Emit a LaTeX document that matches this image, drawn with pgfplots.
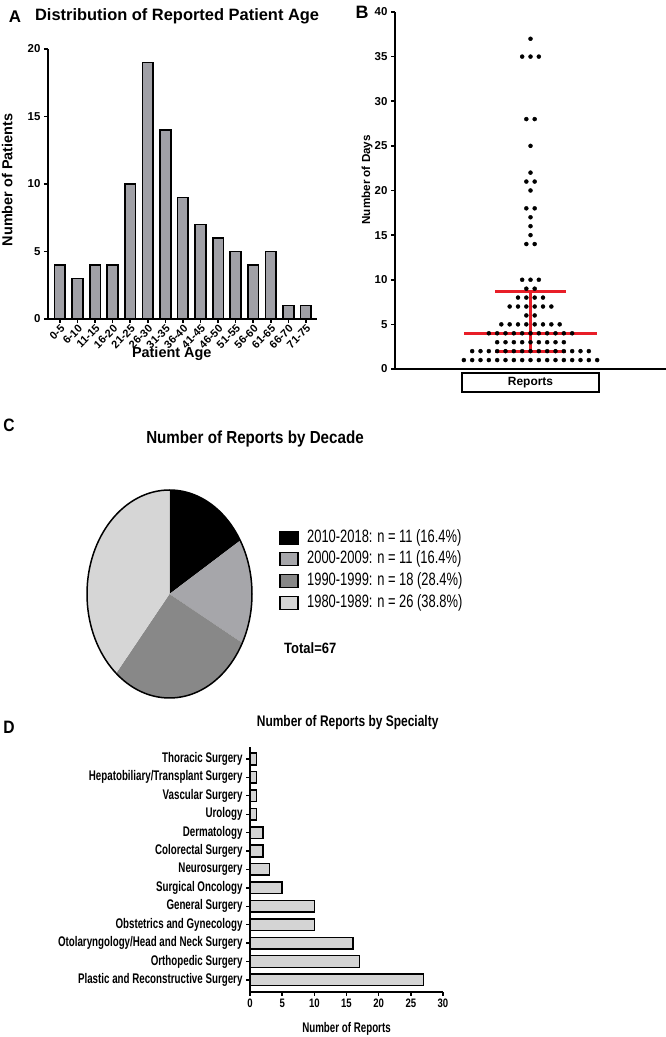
\documentclass[border=0pt]{standalone}
\usepackage{pgfplots}
\pgfplotsset{compat=1.18}
\usepackage{fontspec}
\setmainfont{Liberation Sans}
\newfontfamily\legfont[FakeStretch=0.72]{Liberation Sans}
\newfontfamily\dfont[FakeStretch=0.70]{Liberation Sans}
\newfontfamily\tfont[FakeStretch=0.87]{Liberation Sans}
\newfontfamily\tfontB[FakeStretch=0.78]{Liberation Sans}
\definecolor{barA}{RGB}{160,160,166}
\definecolor{barD}{RGB}{212,212,212}
\definecolor{pie1}{RGB}{0,0,0}
\definecolor{pie2}{RGB}{166,166,170}
\definecolor{pie3}{RGB}{136,136,136}
\definecolor{pie4}{RGB}{214,214,214}
\definecolor{redline}{RGB}{232,30,40}
\newcommand{\fs}[1]{\fontsize{#1}{#1}\selectfont}
\pgfplotsset{every axis title shift=0pt}

\begin{document}
\begin{tikzpicture}[x=1bp,y=1bp]
\path[use as bounding box] (0bp,0bp) rectangle (666bp,1037bp);

% ---------------- Panel A ----------------
\node[font=\bfseries\fs{17}] at (15bp,1020bp) {A};
\begin{axis}[
 at={(48bp,718bp)}, anchor=south west, scale only axis, width=269bp, height=270bp,
 xmin=-0.68, xmax=14.63, ymin=0, ymax=20,
 axis lines=left, axis line style={-, line width=2bp},
 ybar, bar width=0.61,
 xtick={0,...,14},
 xticklabels={0-5,6-10,11-15,16-20,21-25,26-30,31-35,36-40,41-45,46-50,51-55,56-60,61-65,66-70,71-75},
 ytick={0,5,...,20},
 tick style={black, line width=1.6bp}, tick align=outside, major tick length=4bp,
 ticklabel style={font=\bfseries\fs{11.5}},
 x tick label style={rotate=45, anchor=north east, inner sep=0.5bp, font=\bfseries\fs{11}},
 /pgf/number format/assume math mode=true,
 ylabel={Number of Patients}, xlabel={Patient Age},
 label style={font=\bfseries\fs{14.5}},
 ylabel style={at={(axis description cs:-0.152,0.515)}, anchor=center},
 xlabel style={at={(axis description cs:0.46,-0.128)}, anchor=center},
 title={Distribution of Reported Patient Age},
 title style={font=\bfseries\fs{16.5}, at={(axis description cs:0.48,1.122)}, anchor=center},
]
\addplot[fill=barA, draw=black, line width=1.8bp] coordinates {(0,4)(1,3)(2,4)(3,4)(4,10)(5,19)(6,14)(7,9)(8,7)(9,6)(10,5)(11,4)(12,5)(13,1)(14,1)};
\end{axis}

% ---------------- Panel B ----------------
\node[font=\bfseries\fs{18}] at (362bp,1025bp) {B};
\begin{axis}[
 at={(395bp,668bp)}, anchor=south west, scale only axis, width=271bp, height=357bp,
 xmin=-1, xmax=1, ymin=0, ymax=40,
 axis lines=left, axis line style={-, line width=2bp},
 xtick=\empty, ytick={0,5,...,40},
 tick style={black, line width=1.6bp}, tick align=outside, major tick length=4bp,
 ticklabel style={font=\bfseries\fs{11.5}},
 /pgf/number format/assume math mode=true,
 ylabel={Number of Days},
 ylabel style={font=\bfseries\fs{11.7}, at={(axis description cs:-0.103,0.53)}, anchor=center},
 clip=false,
]
\addplot[redline, line width=3bp, forget plot] coordinates {(-0.49,4)(0.49,4)};
\addplot[redline, line width=3bp, forget plot] coordinates {(-0.26,8.67)(0.26,8.67)};
\addplot[redline, line width=3bp, forget plot] coordinates {(-0.26,2)(0.26,2)};
\addplot[redline, line width=3bp, forget plot] coordinates {(0,2)(0,8.67)};
\addplot[only marks, mark=*, mark size=2bp, black] coordinates {
(0,37)
(-0.0615,35)(0,35)(0.0615,35)
(-0.0308,28)(0.0308,28)
(0,25)
(0,22)
(-0.0308,21)(0.0308,21)
(0,20)
(-0.0308,18)(0.0308,18)
(0,17)
(0,16)
(0,15)
(-0.0308,14)(0.0308,14)
(-0.0615,10)(0,10)(0.0615,10)
(-0.0308,9)(0.0308,9)
(-0.0923,8)(-0.0308,8)(0.0308,8)(0.0923,8)
(-0.1538,7)(-0.0923,7)(-0.0308,7)(0.0308,7)(0.0923,7)(0.1538,7)
(-0.0308,6)(0.0308,6)
(-0.2153,5)(-0.1538,5)(-0.0923,5)(-0.0308,5)(0.0308,5)(0.0923,5)(0.1538,5)(0.2153,5)
(-0.3075,4)(-0.246,4)(-0.1845,4)(-0.123,4)(-0.0615,4)(0,4)(0.0615,4)(0.123,4)(0.1845,4)(0.246,4)(0.3075,4)
(-0.246,3)(-0.1845,3)(-0.123,3)(-0.0615,3)(0,3)(0.0615,3)(0.123,3)(0.1845,3)(0.246,3)
(-0.4305,2)(-0.369,2)(-0.3075,2)(-0.246,2)(-0.1845,2)(-0.123,2)(-0.0615,2)(0,2)(0.0615,2)(0.123,2)(0.1845,2)(0.246,2)(0.3075,2)(0.369,2)(0.4305,2)
(-0.492,1)(-0.4305,1)(-0.369,1)(-0.3075,1)(-0.246,1)(-0.1845,1)(-0.123,1)(-0.0615,1)(0,1)(0.0615,1)(0.123,1)(0.1845,1)(0.246,1)(0.3075,1)(0.369,1)(0.4305,1)(0.492,1)
};
\node[draw, line width=1.6bp, minimum width=137bp, minimum height=19bp, anchor=north, inner sep=0pt, font=\bfseries\fs{12}, yshift=-3bp] at (axis cs:0,0) {Reports};
\end{axis}

% ---------------- Panel C ----------------
\node[font=\tfont\bfseries\fs{18}] at (9bp,612bp) {C};
\node[font=\tfont\bfseries\fs{17.5}] at (255bp,598bp) {Number of Reports by Decade};
\def\pA{16.4}\def\pB{16.4}\def\pC{28.4}\def\pD{38.8}
\pgfmathsetmacro\aA{90-3.6*\pA}
\pgfmathsetmacro\aB{\aA-3.6*\pB}
\pgfmathsetmacro\aC{\aB-3.6*\pC}
\pgfmathsetmacro\aD{\aC-3.6*\pD}
\begin{axis}[
 at={(169.5bp,443bp)}, anchor=center, scale only axis, width=165bp, height=208bp,
 xmin=-1, xmax=1, ymin=-1, ymax=1, hide axis, clip=false,
]
\fill[pie1] (axis cs:0,0) -- (axis cs:0,1) arc[start angle=90, end angle=\aA, x radius=82.5bp, y radius=104bp] -- cycle;
\fill[pie2] (axis cs:0,0) -- (axis cs:{cos(\aA)},{sin(\aA)}) arc[start angle=\aA, end angle=\aB, x radius=82.5bp, y radius=104bp] -- cycle;
\fill[pie3] (axis cs:0,0) -- (axis cs:{cos(\aB)},{sin(\aB)}) arc[start angle=\aB, end angle=\aC, x radius=82.5bp, y radius=104bp] -- cycle;
\fill[pie4] (axis cs:0,0) -- (axis cs:{cos(\aC)},{sin(\aC)}) arc[start angle=\aC, end angle=\aD, x radius=82.5bp, y radius=104bp] -- cycle;
\draw[line width=1.5bp] (axis cs:0,0) ellipse [x radius=82.5bp, y radius=104bp];
\end{axis}
\foreach \yy/\cc/\tt in {499/pie1/{2010-2018: n = 11 (16.4\%)},478/pie2/{2000-2009: n = 11 (16.4\%)},456/pie3/{1990-1999: n = 18 (28.4\%)},434/pie4/{1980-1989: n = 26 (38.8\%)}}{
 \draw[fill=\cc, line width=1.2bp] (280bp,\yy bp-6.5bp) rectangle (298bp,\yy bp+6.5bp);
 \node[anchor=west, font=\legfont\fs{18}, inner sep=0pt] at (307bp,\yy bp) {\tt};
}
\node[anchor=west, font=\tfont\bfseries\fs{15}, inner sep=0pt] at (284bp,389bp) {Total=67};

% ---------------- Panel D ----------------
\node[font=\tfont\bfseries\fs{18}] at (9bp,310bp) {D};
\begin{axis}[
 at={(250bp,45.3bp)}, anchor=south west, scale only axis, width=193bp, height=244.7bp,
 xmin=0, xmax=30, ymin=-0.64, ymax=12.65,
 xbar, bar width=0.63,
 axis lines=left, axis line style={-, line width=1.8bp},
 xtick={0,5,...,30}, ytick={0,...,12},
 yticklabels={Plastic and Reconstructive Surgery,Orthopedic Surgery,Otolaryngology/Head and Neck Surgery,Obstetrics and Gynecology,General Surgery,Surgical Oncology,Neurosurgery,Colorectal Surgery,Dermatology,Urology,Vascular Surgery,Hepatobiliary/Transplant Surgery,Thoracic Surgery},
 tick style={black, line width=1.4bp}, tick align=outside, major tick length=4bp,
 yticklabel style={font=\dfont\bfseries\fs{14}},
 xticklabel style={font=\tfontB\bfseries\fs{12.3}},
 /pgf/number format/assume math mode=true,
 xlabel={Number of Reports},
 xlabel style={font=\dfont\bfseries\fs{14}, at={(axis description cs:0.5,-0.152)}, anchor=center},
 title={Number of Reports by Specialty},
 title style={font=\tfontB\bfseries\fs{15.4}, at={(axis description cs:0.506,1.098)}, anchor=center},
]
\addplot[fill=barD, draw=black, line width=1.5bp] coordinates {(27,0)(17,1)(16,2)(10,3)(10,4)(5,5)(3,6)(2,7)(2,8)(1,9)(1,10)(1,11)(1,12)};
\end{axis}
\end{tikzpicture}
\end{document}
